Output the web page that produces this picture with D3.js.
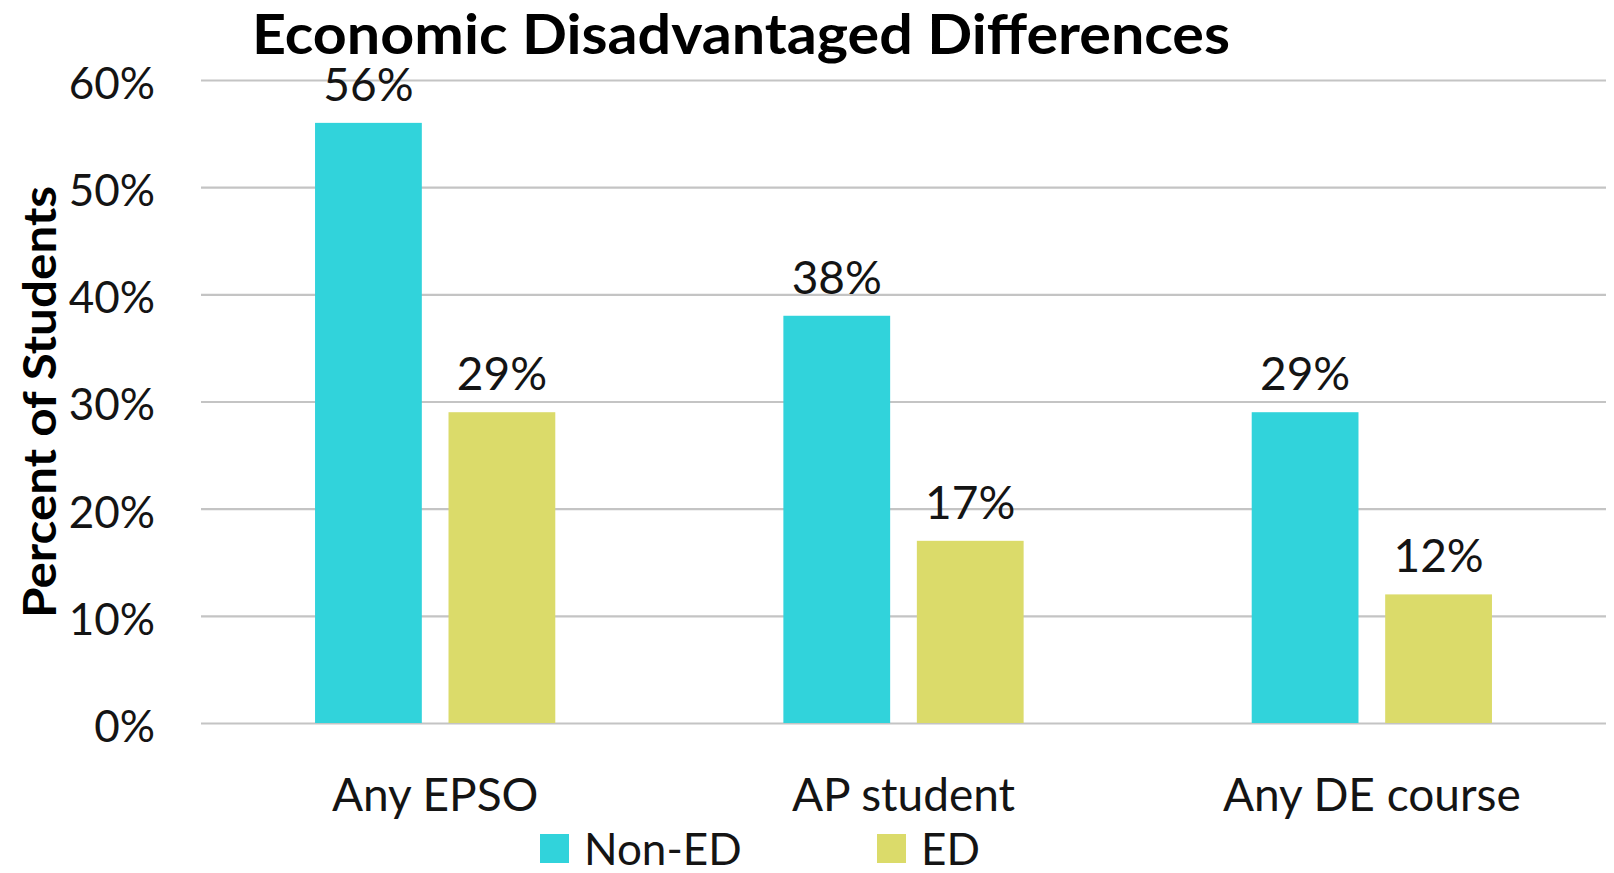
<!DOCTYPE html>
<html>
<head>
<meta charset="utf-8">
<script src="https://cdn.jsdelivr.net/npm/d3@7"></script>
<style>
  html, body { margin: 0; padding: 0; background: #fff; }
  svg { display: block; }
  svg text { font-family: Lato, "Open Sans", sans-serif; }
</style>
</head>
<body>
<svg id="chart" width="1614" height="873"></svg>
<script>
// Share of students taking each early postsecondary option, by economic status
const categories = ["Any EPSO", "AP student", "Any DE course"];
const seriesNames = ["Non-ED", "ED"];
const nonEdValues = [56, 38, 29];
const edValues = [29, 17, 12];
const yTicks = [0, 10, 20, 30, 40, 50, 60];
const seriesColors = ["#31d3db", "#dbdb6a"];
const titleText = "Economic Disadvantaged Differences";
const yAxisTitle = "Percent of Students";

const FONT = "Lato, 'Open Sans', sans-serif";
const svg = d3.select("#chart");
const margin = { left: 201, right: 8, top: 80, bottom: 150 };
const W = 1614, H = 873;
const plotBottom = 723;

const x0 = d3.scaleBand().domain(categories).range([margin.left, W - margin.right]).paddingInner(0).paddingOuter(0);
const groupInset = 0.2435;
const x1 = d3.scaleBand().domain(seriesNames)
  .range([x0.bandwidth() * groupInset, x0.bandwidth() * (1 - groupInset)])
  .paddingInner(0.2).paddingOuter(0);
const y = d3.scaleLinear().domain([0, 60]).range([plotBottom, margin.top]);

// gridlines and percentage ticks
const yAxis = d3.axisLeft(y).tickValues(yTicks).tickSize(-(W - margin.right - margin.left)).tickFormat(d => d + "%").tickPadding(46);
const gy = svg.append("g").attr("transform", `translate(${margin.left},0)`).call(yAxis)
  .attr("font-family", FONT);
gy.select(".domain").remove();
gy.selectAll(".tick line").attr("stroke", "#c4c4c4").attr("stroke-width", 2.2);
gy.selectAll(".tick text")
  .attr("fill", "#141414")
  .attr("font-size", 44)
  .attr("dy", "0.42em");

// bars
const rows = categories.map((c, i) => ({ cat: c, vals: [nonEdValues[i], edValues[i]] }));
const groups = svg.append("g").selectAll("g").data(rows).join("g")
  .attr("transform", d => `translate(${x0(d.cat)},0)`);
groups.selectAll("rect").data(d => d.vals.map((v, j) => ({ key: seriesNames[j], v, j })))
  .join("rect")
  .attr("x", d => x1(d.key))
  .attr("width", x1.bandwidth())
  .attr("y", d => y(d.v))
  .attr("height", d => y(0) - y(d.v))
  .attr("fill", d => seriesColors[d.j]);
groups.selectAll("text.val").data(d => d.vals.map((v, j) => ({ key: seriesNames[j], v, j })))
  .join("text").attr("class", "val")
  .attr("x", d => x1(d.key) + x1.bandwidth() / 2)
  .attr("y", d => y(d.v) - 22)
  .attr("text-anchor", "middle")
  .attr("font-size", 46)
  .attr("fill", "#141414")
  .text(d => d.v + "%");

// category labels
const xAxis = d3.axisBottom(x0).tickSize(0).tickPadding(0);
const gx = svg.append("g").attr("transform", `translate(0,${plotBottom})`).call(xAxis)
  .attr("font-family", FONT);
gx.select(".domain").remove();
gx.selectAll(".tick text")
  .attr("font-size", 46)
  .attr("fill", "#141414")
  .attr("y", 88)
  .attr("dy", 0);

// title
svg.append("text")
  .attr("x", 741).attr("y", 54)
  .attr("text-anchor", "middle")
  .attr("font-size", 56).attr("font-weight", 700)
  .attr("textLength", 978).attr("lengthAdjust", "spacingAndGlyphs")
  .attr("fill", "#000")
  .text(titleText);

// y-axis title
svg.append("text")
  .attr("transform", `translate(56,${402}) rotate(-90)`)
  .attr("text-anchor", "middle")
  .attr("font-size", 46).attr("font-weight", 700)
  .attr("textLength", 432).attr("lengthAdjust", "spacingAndGlyphs")
  .attr("fill", "#000")
  .text(yAxisTitle);

// legend
const legendX = [540, 877];
const leg = svg.append("g").selectAll("g").data(seriesNames).join("g")
  .attr("transform", (d, i) => `translate(${legendX[i]},834)`);
leg.append("rect").attr("width", 29).attr("height", 29).attr("fill", (d, i) => seriesColors[i]);
leg.append("text").attr("x", 44).attr("y", 31)
  .attr("font-size", 44).attr("fill", "#141414").text(d => d);
</script>
</body>
</html>
